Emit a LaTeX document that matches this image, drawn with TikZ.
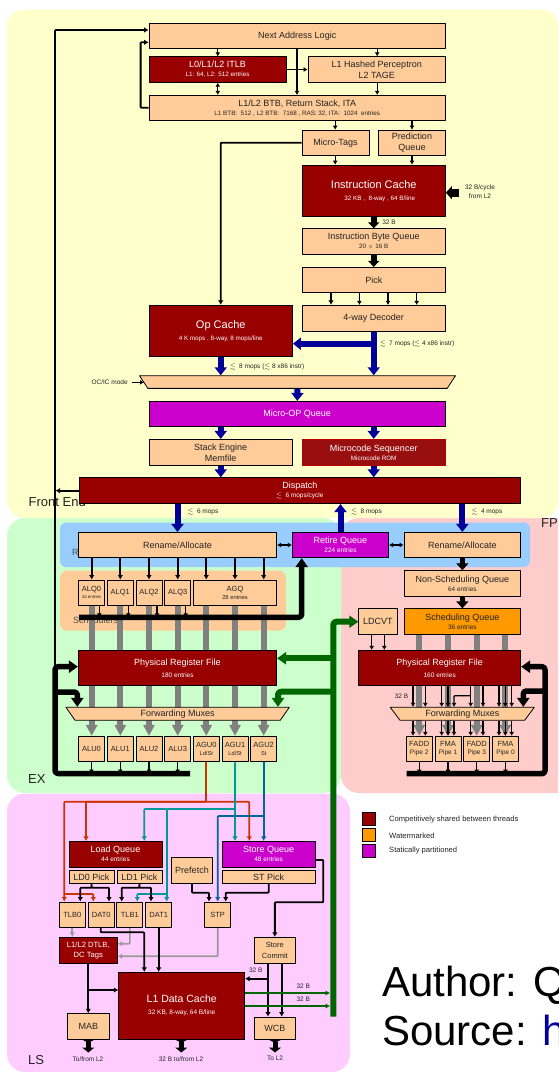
\documentclass[tikz,border=0pt]{standalone}
\usepackage{amsmath,amssymb}
\usepackage{fontspec}
\setmainfont{Liberation Sans}
\usetikzlibrary{arrows.meta,calc,positioning,shapes.geometric}
\definecolor{ZNfront}{HTML}{FFFFCC}
\definecolor{ZNex}{HTML}{CCFFCC}
\definecolor{ZNfp}{HTML}{FFCCCC}
\definecolor{ZNls}{HTML}{FFCCFF}
\definecolor{ZNrename}{HTML}{99CCFF}
\definecolor{ZNunit}{HTML}{FFCC99}
\definecolor{ZNshared}{HTML}{990000}
\definecolor{ZNrom}{HTML}{990F0F}
\definecolor{ZNwater}{HTML}{FF9900}
\definecolor{ZNstatic}{HTML}{CC00CC}
\definecolor{ZNnavy}{HTML}{000099}
\definecolor{ZNgreen}{HTML}{006600}
\definecolor{ZNgrey}{HTML}{808080}
\definecolor{ZNpale}{HTML}{999999}
\definecolor{ZNred}{HTML}{CC3300}
\definecolor{ZNteal}{HTML}{009999}
\definecolor{ZNsea}{HTML}{006699}
\definecolor{ZNink}{HTML}{222222}
\newcommand{\fsz}[2]{{\fontsize{#1}{#1}\selectfont #2}}
\newcommand{\lsim}{$\lesssim$}

\begin{document}
\begin{tikzpicture}[
  x=1pt,y=-1pt,
  line join=round,
  unit/.style={draw=black,line width=0.8pt,fill=ZNunit,text=ZNink,align=center,inner sep=0pt,
    font=\fontsize{9}{11}\selectfont},
  shared/.style={unit,fill=ZNshared,text=white},
  staticq/.style={unit,fill=ZNstatic,text=white},
  fu/.style={unit,minimum width=26pt,minimum height=25.5pt,font=\fontsize{7.5}{8.5}\selectfont},
  mux/.style={unit,trapezium,trapezium stretches body=true,shape border rotate=180,inner sep=1pt},
  small/.style={font=\fontsize{6.5}{9}\selectfont,text=ZNink,align=center,inner sep=0pt},
  keylabel/.style={font=\fontsize{7.6}{9}\selectfont,text=ZNink,anchor=west,inner sep=0pt},
  zonelabel/.style={font=\fontsize{13}{13}\selectfont,text=ZNink,anchor=west,inner sep=0pt},
  zonehidden/.style={font=\fontsize{9}{9}\selectfont,text=ZNink!80,anchor=west,inner sep=0pt},
  zone/.style={rounded corners=18pt},
  wire/.style={draw=black,line width=1.3pt,rounded corners=0.8pt,-{Latex[length=4pt,width=5pt]}},
  heavy/.style={wire,line width=1.8pt,-{Latex[length=4.5pt,width=5.5pt]}},
  colwire/.style={wire,line width=1.7pt,draw=#1,-{Latex[length=4.5pt,width=5.5pt]}},
  blackbus/.style={draw=black,line width=5.5pt,rounded corners=3pt,-{Triangle[length=9pt,width=12pt]}},
  navybus/.style={draw=ZNnavy,line width=6pt,-{Triangle[length=8pt,width=12pt]}},
  greenbus/.style={draw=ZNgreen,line width=6pt,rounded corners=3pt,-{Triangle[length=9pt,width=12pt]}},
  greybus/.style={draw=ZNgrey,line width=6pt},
]
\useasboundingbox (0,0) rectangle (558,1072);
\clip (0,0) rectangle (558,1072);

% coloured zones, back to front
\fill[zone,ZNfp] (341,518) rectangle (585,793);
\fill[zone,ZNex] (7,518) rectangle (341,793);
\fill[zone,ZNfront] (6.5,9.5) rectangle (559,518);
\fill[zone,ZNls] (7,793.5) rectangle (350,1072);
\fill[rounded corners=6pt,ZNrename] (60,522.5) rectangle (530,567);
\fill[rounded corners=7pt,ZNunit] (60,570.7) rectangle (286,630.7);

\node[zonelabel] (lblfront) at (28.5,502) {Front End};
\node[zonelabel] (lblfp) at (541,523) {FP};
\node[zonelabel] (lblex) at (28,779) {EX};
\node[zonelabel] (lblls) at (28,1060) {LS};
\node[zonehidden] (lblrename) at (72,552) {R};
\node[zonehidden] (lblsched) at (73,620) {Schedulers};

% front end
\node[unit,minimum width=296.5pt,minimum height=25pt] (nextaddr) at (297.25,35.8) {Next Address Logic};
\node[shared,minimum width=137pt,minimum height=25.6pt] (itlb) at (217.5,69.5)
  {L0/L1/L2 ITLB\\[-2pt]\fsz{6.3}{L1: 64, L2: 512 entries}};
\node[unit,minimum width=137.5pt,minimum height=25.6pt] (percep) at (376.75,69.5) {L1 Hashed Perceptron\\L2 TAGE};
\node[unit,minimum width=296.5pt,minimum height=25pt] (btb) at (297.25,107.8)
  {L1/L2 BTB, Return Stack, ITA\\[-2pt]\fsz{6.3}{L1 BTB:\ \ 512 , L2 BTB:\ \ 7168 , RAS: 32, ITA:\ \ 1024\ \ entries}};
\node[unit,minimum width=67pt,minimum height=25.3pt] (mtags) at (335.5,142.7) {Micro-Tags};
\node[unit,minimum width=66.9pt,minimum height=25.3pt] (predq) at (412,142.7) {Prediction\\Queue};
\node[shared,minimum width=143.5pt,minimum height=51.3pt] (icache) at (373.75,190.7)
  {\fsz{11}{Instruction Cache}\\[1pt]\hspace*{12pt}\fsz{6.3}{32 KB ,\ \ 8-way , 64 B/line}};
\node[unit,minimum width=143.5pt,minimum height=25.6pt] (ibq) at (373.75,241.5)
  {Instruction Byte Queue\\[-2pt]\fsz{6.3}{20 $\times$ 16 B}};
\node[unit,minimum width=143.5pt,minimum height=25.4pt] (pick) at (373.75,280) {Pick};
\node[unit,minimum width=143.5pt,minimum height=26pt] (decoder) at (373.75,318.3) {4-way Decoder};
\node[shared,minimum width=143.5pt,minimum height=51.4pt] (opcache) at (220.75,331)
  {\fsz{11}{Op Cache}\\[1pt]\fsz{6.3}{4 K mops , 8-way, 8 mops/line}};
\node[mux,minimum width=316pt,minimum height=12.7pt,trapezium angle=53] (femux) at (297.5,382) {\rule{0pt}{9pt}};
\node[staticq,minimum width=296.5pt,minimum height=25.4pt] (uopq) at (297.25,414) {Micro-OP Queue};
\node[unit,minimum width=143.5pt,minimum height=26pt] (stackeng) at (220.75,452.3) {Stack Engine\\Memfile};
\node[shared,draw=ZNshared!75!red,fill=ZNrom,minimum width=143.5pt,minimum height=26pt] (ucode) at (373.75,452.3)
  {Microcode Sequencer\\[-2pt]\fsz{6.3}{Microcode ROM}};
\node[shared,minimum width=441.6pt,minimum height=26pt] (dispatch) at (299.8,490.7)
  {Dispatch\\[-2pt]\fsz{6.5}{\lsim\ \ 6 mops/cycle}};

\node[small] (lblcycle) at (480,192) {32 B/cycle\\from L2};
\node[small] (lblib) at (389,222) {32 B};
\node[small] (lbldec) at (417,343.7) {\lsim\ \ 7 mops (\lsim\ 4 x86 instr)};
\node[small] (lblop) at (267,366.7) {\lsim\ \ 8 mops (\lsim\ 8 x86 instr)};
\node[small] (lblmode) at (109.6,382.3) {OC/IC mode};
\node[small] (lblsix) at (203,511.7) {\lsim\ \ 6 mops};
\node[small] (lbleight) at (366.5,511.7) {\lsim\ \ 8 mops};
\node[small] (lblfour) at (487,511.7) {\lsim\ \ 4 mops};

\draw[wire] (217.8,0 |- nextaddr.south) -- (217.8,0 |- itlb.north);
\draw[wire,{Latex[length=4pt,width=5pt]}-{Latex[length=4pt,width=5pt]}] (217.8,0 |- itlb.south) -- (217.8,0 |- btb.north);
\draw[wire] (297,0 |- nextaddr.south) -- (297,0 |- btb.north);
\draw[wire] (377.2,0 |- nextaddr.south) -- (377.2,0 |- percep.north);
\draw[wire] (377.2,0 |- percep.south) -- (377.2,0 |- btb.north);
\draw[wire] (itlb.east) -- (percep.west);
\draw[heavy] (btb.west) -- (140.6,0 |- btb.west) -- (140.6,42.3) -- (nextaddr.west |- 0,42.3);
\draw[wire] (335.2,0 |- btb.south) -- (335.2,0 |- mtags.north);
\draw[wire] (412,0 |- btb.south) -- (412,0 |- predq.north);
\draw[wire] (335.2,0 |- mtags.south) -- (335.2,0 |- icache.north);
\draw[wire] (412,0 |- predq.south) -- (412,0 |- icache.north);
\draw[heavy] (mtags.west) -| (opcache.north);
\draw[blackbus,line width=8pt,-{Triangle[length=6pt,width=13pt]}] (459,192.7) -- (icache.east |- 0,192.7);
\draw[blackbus,-{Triangle[length=6pt,width=11pt]}] (icache.south) -- (ibq.north);
\draw[blackbus,-{Triangle[length=6pt,width=11pt]}] (ibq.south) -- (pick.north);
\draw[heavy] (331,0 |- pick.south) -- (331,0 |- decoder.north);
\foreach \x in {359.4,388,416.7}{\draw[wire] (\x,0 |- pick.south) -- (\x,0 |- decoder.north);}
\draw[navybus] (decoder.south) -- (femux.north -| decoder.south);
\draw[navybus] (373.75,343.7) -- (opcache.east |- 0,343.7);
\draw[navybus] (opcache.south) -- (femux.north -| opcache.south);
\draw[navybus] (femux.south) -- (uopq.north);
\draw[navybus] (uopq.south -| stackeng.north) -- (stackeng.north);
\draw[navybus] (uopq.south -| ucode.north) -- (ucode.north);
\draw[navybus] (stackeng.south) -- (dispatch.north -| stackeng.south);
\draw[navybus] (ucode.south) -- (dispatch.north -| ucode.south);
\draw[wire] (lblmode.east) ++(4,0) -- (144,0 |- lblmode.east);

% rename row and queues
\node[unit,minimum width=198.4pt,minimum height=25.4pt] (renameint) at (177.5,545) {Rename/Allocate};
\node[staticq,minimum width=96.4pt,minimum height=25.4pt] (retireq) at (340.5,545)
  {Retire Queue\\[-2pt]\fsz{6.5}{224 entries}};
\node[unit,minimum width=116.7pt,minimum height=25.4pt] (renamefp) at (462.35,545) {Rename/Allocate};
\draw[navybus] (dispatch.south -| renameint.north) -- (renameint.north);
\draw[navybus] (retireq.north) -- (dispatch.south -| retireq.north);
\draw[navybus] (dispatch.south -| renamefp.north) -- (renamefp.north);
\draw[wire,{Latex[length=4pt,width=5pt]}-{Latex[length=4pt,width=5pt]}] (renameint.east) -- (retireq.west);
\draw[wire,{Latex[length=4pt,width=5pt]}-{Latex[length=4pt,width=5pt]}] (retireq.east) -- (renamefp.west);

\node[fu,minimum height=25.7pt] (alq0) at (91.5,592.8) {ALQ0\\[-1.5pt]\fsz{4.4}{16 entries}};
\node[fu,minimum height=25.7pt] (alq1) at (120.3,592.8) {ALQ1};
\node[fu,minimum height=25.7pt] (alq2) at (149,592.8) {ALQ2};
\node[fu,minimum height=25.7pt] (alq3) at (177.7,592.8) {ALQ3};
\node[fu,minimum width=83.4pt,minimum height=25.7pt] (agq) at (235,592.8) {AGQ\\[-1pt]\fsz{5.8}{28 entries}};
\node[shared,minimum width=198.4pt,minimum height=35pt] (prfint) at (177.5,667.8)
  {Physical Register File\\[1pt]\fsz{6.5}{180 entries}};
\node[fu] (alu0) at (91.5,749) {ALU0};
\node[fu] (alu1) at (120.3,749) {ALU1};
\node[fu] (alu2) at (149,749) {ALU2};
\node[fu] (alu3) at (177.7,749) {ALU3};
\node[fu] (agu0) at (206.3,749) {AGU0\\[-1pt]\fsz{5.7}{Ld/St}};
\node[fu] (agu1) at (235.1,749) {AGU1\\[-1pt]\fsz{5.7}{Ld/St}};
\node[fu] (agu2) at (263.7,749) {AGU2\\[-1pt]\fsz{5.7}{St}};
\coordinate (retirebus) at (79,617.3);
\coordinate (exbus) at (55,773.5);

% grey columns sit behind the muxes
\foreach \x/\top in {91.7/alq0,120.3/alq1,149/alq2,177.7/alq3,206.3/agq,235/agq,263.7/agq}{
  \draw[greybus] (\x,0 |- \top.south) -- (\x,0 |- prfint.north);
  \draw[greybus,-{Triangle[length=11pt,width=11pt]}] (\x,0 |- prfint.south) -- (\x,0 |- alu0.north);
}
\node[mux,minimum width=223.3pt,minimum height=13pt,trapezium angle=49] (muxint) at (177.65,713.8) {Forwarding Muxes};

\foreach \x/\dst in {91.7/alq0,120.3/alq1,149/alq2,177.7/alq3,206.3/agq,235/agq,263.7/agq}{
  \draw[heavy] (\x,0 |- renameint.south) -- (\x,0 |- \dst.north);
}
\draw[blackbus] (retirebus) -- (301.7,617.3) -- (retireq.south -| 301.7,0);
\foreach \x/\src in {99.3/alq0,128.3/alq1,157/alq2,185.7/alq3}{\draw[wire] (\x,0 |- \src.south) -- (\x,0 |- retirebus);}
\foreach \src in {alu0,alu1,alu2,alu3}{\draw[wire] (\src.south) -- (\src.south |- exbus);}
\draw[blackbus] (190,773.5) -- (exbus) -- (55,666.7) -- (prfint.west |- 0,666.7);
\draw[blackbus] (55,692) -- (77.3,692) -- (77.3,0 |- muxint.north);
\draw[heavy] (55,667) |- (nextaddr.west |- 0,30);
\draw[heavy] (dispatch.west) -- (55.5,0 |- dispatch.west);

% floating point
\node[unit,minimum width=116.7pt,minimum height=25.3pt] (nsq) at (462.35,583.3)
  {Non-Scheduling Queue\\[-2pt]\fsz{6.5}{64 entries}};
\node[unit,fill=ZNwater,minimum width=116.7pt,minimum height=25.6pt] (schedq) at (462.35,621.5)
  {Scheduling Queue\\[-2pt]\fsz{6.5}{36 entries}};
\node[unit,minimum width=38.3pt,minimum height=25.6pt] (ldcvt) at (377.85,621.5) {LDCVT};
\node[shared,minimum width=162pt,minimum height=35pt] (prffp) at (439.7,667.8)
  {Physical Register File\\[1pt]\fsz{6.5}{160 entries}};
\node[fu] (fadd2) at (419.2,749) {FADD\\[-0.5pt]\fsz{6.5}{Pipe 2}};
\node[fu] (fma1) at (448,749) {FMA\\[-0.5pt]\fsz{6.5}{Pipe 1}};
\node[fu] (fadd3) at (476.8,749) {FADD\\[-0.5pt]\fsz{6.5}{Pipe 3}};
\node[fu] (fma0) at (505.5,749) {FMA\\[-0.5pt]\fsz{6.5}{Pipe 0}};
\node[small] (lblfpb) at (401.5,696.5) {32 B};
\draw[blackbus,-{Triangle[length=7pt,width=12pt]}] (renamefp.south) -- (nsq.north);
\draw[blackbus,-{Triangle[length=7pt,width=12pt]}] (nsq.south) -- (schedq.north);
\foreach \x in {371.7,384.3}{\draw[wire] (\x,0 |- ldcvt.south) -- (\x,0 |- prffp.north);}
\foreach \x/\dst in {419.3/fadd2,448/fma1,476.7/fadd3,505.3/fma0}{
  \draw[greybus] (\x,0 |- schedq.south) -- (\x,0 |- prffp.north);
  \draw[greybus,draw=ZNgrey,-{Triangle[length=11pt,width=11pt]}] (\x,0 |- prffp.south) -- (\x,0 |- \dst.north);
}
\node[mux,minimum width=144pt,minimum height=13pt,trapezium angle=47] (muxfp) at (462.3,713.8) {Forwarding Muxes};
\foreach \x in {413,425.3,441.7,448,470.7,483,505.3,511.7,499}{\draw[wire] (\x,0 |- prffp.south) -- (\x,0 |- muxfp.north);}
\draw[wire] (470.7,695.7) -- (454,695.7) -- (454,0 |- muxfp.north);
\foreach \x/\dst in {413/fadd2,425.3/fadd2,441.7/fma1,448/fma1,454/fma1,470.7/fadd3,483/fadd3,499/fma0,505.3/fma0,511.7/fma0}{
  \draw[wire] (\x,0 |- muxfp.south) -- (\x,0 |- \dst.north);
}
\foreach \src in {fadd2,fma1,fadd3,fma0}{\draw[wire] (\src.south) -- (\src.south |- 0,773.7);}
\draw[blackbus] (406.7,773.7) -- (545,773.7) -- (545,666.7) -- (prffp.east |- 0,666.7);
\draw[blackbus] (545,691) -- (523.3,691) -- (523.3,0 |- muxfp.north);

% load/store
\node[shared,minimum width=93pt,minimum height=25.7pt] (loadq) at (115.5,854.2)
  {Load Queue\\[-2pt]\fsz{6.5}{44 entries}};
\node[unit,minimum width=45pt,minimum height=13pt] (ldzero) at (91.5,876.8) {LD0 Pick};
\node[unit,minimum width=45pt,minimum height=13pt] (ldone) at (139.5,876.8) {LD1 Pick};
\node[staticq,minimum width=92.7pt,minimum height=25.7pt] (storeq) at (268.65,854.2)
  {Store Queue\\[-2pt]\fsz{6.5}{48 entries}};
\node[unit,minimum width=92.7pt,minimum height=13pt] (stpick) at (268.65,876.8) {ST Pick};
\node[unit,minimum width=41.4pt,minimum height=25.7pt] (prefetch) at (192,870.2) {Prefetch};
\node[fu,minimum height=25.7pt] (tlbzero) at (72.3,914.8) {TLB0};
\node[fu,minimum height=25.7pt] (datzero) at (101.2,914.8) {DAT0};
\node[fu,minimum height=25.7pt] (tlbone) at (129.85,914.8) {TLB1};
\node[fu,minimum height=25.7pt] (datone) at (158.7,914.8) {DAT1};
\node[fu,minimum height=25.7pt] (stp) at (217.7,914.8) {STP};
\node[shared,minimum width=58pt,minimum height=25.7pt,font=\fontsize{7.6}{10}\selectfont] (dtlb) at (88.3,950.2) {L1/L2 DTLB,\\DC Tags};
\node[unit,minimum width=41.7pt,minimum height=25.7pt,font=\fontsize{7.5}{10.5}\selectfont] (commit) at (274.85,950.2) {Store\\Commit};
\node[shared,minimum width=126pt,minimum height=67pt] (lone) at (181.7,1005.8)
  {\fsz{10.5}{L1 Data Cache}\\[1pt]\fsz{6.5}{32 KB, 8-way, 64 B/line}};
\node[unit,minimum width=41.6pt,minimum height=25.6pt] (mab) at (88.5,1026.5) {MAB};
\node[unit,minimum width=41.7pt,minimum height=22.3pt] (wcb) at (274.85,1028.2) {WCB};

\node[small] (lblstore) at (255.7,970.3) {32 B};
\node[small] (lblupper) at (303.3,986.7) {32 B};
\node[small] (lbllower) at (303.3,999.3) {32 B};
\node[small] (lblmab) at (88,1058.7) {To/from L2};
\node[small] (lblcache) at (181,1058.7) {32 B to/from L2};
\node[small] (lblwcb) at (275,1058.7) {To L2};

\draw[draw=ZNred,line width=1.7pt] (agu0.south) -- (206.3,801.7);
\coordinate (redrail) at (206.3,801.7);
\draw[colwire=ZNred] (redrail) -| (64.3,0 |- tlbzero.north);
\draw[colwire=ZNred] (redrail) -| (86,0 |- loadq.north);
\draw[colwire=ZNred] (redrail) -| (249.3,0 |- storeq.north);
\draw[colwire=ZNred] (64.3,894) -| (93.3,0 |- datzero.north);
\draw[colwire=ZNteal] (agu1.south) -- (235,0 |- storeq.north);
\coordinate (tealrail) at (235,809);
\draw[colwire=ZNteal] (tealrail) -| (144.3,0 |- loadq.north);
\draw[colwire=ZNteal] (166.7,809) -- (166.7,0 |- datone.north);
\draw[colwire=ZNteal] (166.7,894) -| (137.3,0 |- tlbone.north);
\draw[colwire=ZNsea] (agu2.south) -- (263.7,0 |- storeq.north);
\coordinate (searail) at (263.7,816);
\draw[colwire=ZNsea] (searail) -| (stp.north);

\draw[heavy] (ldzero.south) -- (91.7,887.7) -| (80.3,0 |- tlbzero.north);
\draw[heavy] (91.7,887.7) -| (109,0 |- datzero.north);
\draw[heavy] (ldone.south) -- (139.3,887.7) -| (121.7,0 |- tlbone.north);
\draw[heavy] (139.3,887.7) -| (151,0 |- datone.north);
\draw[heavy] (prefetch.south) |- (209,892.7) -- (209,0 |- stp.north);
\draw[heavy] (stpick.south) |- (225.7,892.7) -- (225.7,0 |- stp.north);
\draw[heavy] (storeq.east |- 0,860) -- (323.3,860) -- (323.3,902.3) -| (commit.north);
\draw[colwire=ZNpale] (tlbzero.south) -- (tlbzero.south |- dtlb.north);
\draw[colwire=ZNpale] (tlbone.south) |- (dtlb.east |- 0,943.7);
\draw[colwire=ZNpale] (stp.south) |- (dtlb.east |- 0,956.3);
\draw[heavy] (100.7,0 |- datzero.south) -- (100.7,932.3) -| (144.3,0 |- lone.north);
\draw[heavy] (datone.south) -- (datone.south |- lone.north);
\draw[heavy] (dtlb.south) -- (mab.north -| dtlb.south);
\draw[heavy] (88.3,990) -- (lone.west |- 0,990);
\draw[heavy] (268,0 |- commit.south) -- (268,0 |- wcb.north);
\draw[heavy] (281.7,0 |- commit.south) -- (281.7,0 |- wcb.north);
\draw[heavy] (268,978.7) -- (lone.east |- 0,978.7);
\draw[colwire=ZNgreen] (lone.east |- 0,993) -- (330,993);
\draw[colwire=ZNgreen] (lone.east |- 0,1006) -- (330,1006);
\foreach \src/\x in {mab/88.3,lone/181.3,wcb/275}{
  \draw[draw=black,line width=5pt,{Triangle[length=3pt,width=12pt,reversed]}-{Triangle[length=5pt,width=12pt]}]
    (\x,0 |- \src.south) -- (\x,1052.5);
}

% the green result bus runs over the zone edge
\draw[greenbus] (333.3,1016.7) -- (333.3,621.7) -- (ldcvt.west |- 0,621.7);
\draw[greenbus] (333.3,658.3) -- (prfint.east |- 0,658.3);
\draw[greenbus] (333.3,691.7) -- (278,691.7) -- (278,0 |- muxint.north);

% key
\node[shared,minimum width=13.4pt,minimum height=13pt] (keyshared) at (369,819.2) {};
\node[unit,fill=ZNwater,minimum width=13.4pt,minimum height=13pt] (keywater) at (369,835.2) {};
\node[staticq,minimum width=13.4pt,minimum height=13pt] (keystatic) at (369,851.2) {};
\node[keylabel] (lblkeya) at (389,819.3) {Competitively shared between threads};
\node[keylabel] (lblkeyb) at (389,835.3) {Watermarked};
\node[keylabel] (lblkeyc) at (389,850.3) {Statically partitioned};

\node[anchor=base west,inner sep=0pt,font=\fontsize{42}{42}\selectfont] (author) at (382,996.7) {Author: Q};
\node[anchor=base west,inner sep=0pt,font=\fontsize{42}{42}\selectfont] (source) at (382,1045) {Source: \textcolor{ZNnavy}{h}};
\end{tikzpicture}
\end{document}
